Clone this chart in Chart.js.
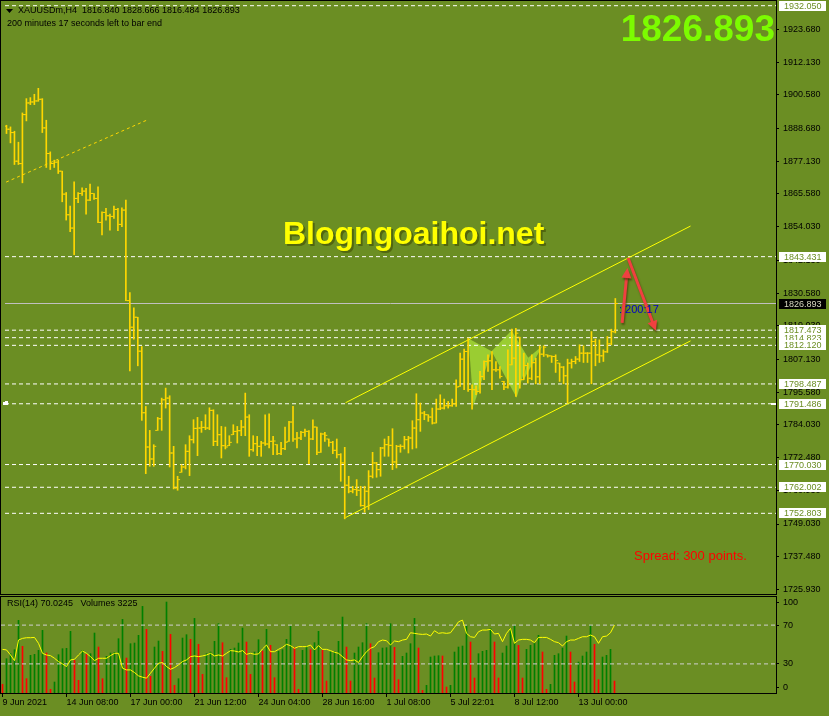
<!DOCTYPE html>
<html>
<head>
<meta charset="utf-8">
<script src="https://cdn.jsdelivr.net/npm/chart.js@4"></script>
<style>
  html, body { margin: 0; padding: 0; background: #6B8E23; }
  #wrap { position: relative; width: 829px; height: 716px; overflow: hidden; }
  canvas { position: absolute; left: 0; }
  #main { top: 0; }
  #rsi { top: 595px; }
</style>
</head>
<body>
<div id="wrap">
  <canvas id="main" width="829" height="595"></canvas>
  <canvas id="rsi" width="829" height="121"></canvas>
</div>
<script>
// ---- data (H4 bars, XAUUSDm) ----
const highs = [
  1889.84, 1889.25, 1887.72, 1883.85, 1894.19, 1899.24, 1899.59, 1900.77, 1902.88, 1899.24,
  1891.60, 1880.44, 1877.50, 1877.50, 1873.62, 1866.10, 1861.29, 1869.86, 1866.10, 1867.75,
  1867.52, 1869.04, 1865.75, 1868.10, 1859.29, 1860.47, 1858.47, 1861.29, 1860.47, 1860.70,
  1863.40, 1830.74, 1825.33, 1822.04, 1811.70, 1790.55, 1782.09, 1777.04, 1786.68, 1793.49,
  1797.02, 1794.32, 1776.46, 1765.88, 1769.99, 1777.04, 1780.21, 1785.86, 1786.68, 1785.27,
  1787.62, 1790.08, 1789.38, 1787.62, 1783.50, 1783.27, 1780.21, 1784.09, 1783.50, 1785.62,
  1795.26, 1787.62, 1780.21, 1779.98, 1778.22, 1787.62, 1787.98, 1779.99, 1777.05, 1777.87,
  1783.28, 1785.28, 1790.56, 1781.40, 1781.75, 1782.57, 1781.98, 1785.86, 1783.28, 1781.16,
  1781.40, 1779.05, 1778.23, 1779.05, 1773.88, 1776.11, 1765.89, 1762.36, 1764.71, 1762.36,
  1762.36, 1767.89, 1774.35, 1770.82, 1776.11, 1779.05, 1779.99, 1782.69, 1776.81, 1777.05,
  1779.99, 1779.99, 1785.51, 1795.03, 1791.74, 1788.80, 1787.62, 1789.97, 1793.15, 1794.67,
  1793.15, 1792.32, 1793.15, 1799.96, 1809.36, 1810.77, 1814.65, 1798.20, 1797.85, 1802.90,
  1806.66, 1808.77, 1809.95, 1806.42, 1804.66, 1799.37, 1810.54, 1817.82, 1818.17, 1815.00,
  1809.36, 1805.84, 1808.77, 1807.60, 1811.95, 1811.95, 1808.77, 1808.42, 1808.77, 1805.84,
  1804.66, 1807.25, 1807.25, 1808.19, 1812.30, 1811.95, 1809.60, 1817.00, 1814.30, 1814.06,
  1810.54, 1815.24, 1817.82, 1828.666
];
const lows = [
  1886.90, 1883.61, 1875.97, 1875.97, 1869.51, 1891.37, 1897.12, 1897.12, 1898.30, 1887.25,
  1874.92, 1874.21, 1874.92, 1872.80, 1862.81, 1856.35, 1852.24, 1844.13, 1862.46, 1865.05,
  1858.47, 1863.17, 1863.64, 1855.41, 1851.07, 1856.35, 1852.83, 1856.94, 1852.59, 1854.00,
  1827.92, 1803.13, 1814.29, 1804.89, 1785.62, 1766.82, 1769.41, 1769.41, 1782.09, 1782.09,
  1789.97, 1769.17, 1761.42, 1760.95, 1767.29, 1768.46, 1766.12, 1777.63, 1773.17, 1781.39,
  1782.33, 1782.33, 1776.69, 1776.69, 1772.34, 1775.52, 1776.69, 1780.57, 1777.63, 1780.21,
  1780.21, 1772.93, 1774.69, 1773.17, 1772.93, 1776.81, 1775.87, 1773.52, 1773.52, 1773.52,
  1775.29, 1778.23, 1778.23, 1775.87, 1778.81, 1779.99, 1770.35, 1778.81, 1773.52, 1774.35,
  1778.23, 1776.46, 1773.88, 1772.35, 1764.12, 1750.85, 1760.01, 1760.01, 1759.07, 1755.31,
  1753.20, 1754.14, 1765.30, 1765.54, 1765.89, 1772.94, 1772.94, 1768.24, 1768.83, 1774.35,
  1775.52, 1774.11, 1775.52, 1775.87, 1781.75, 1785.86, 1785.27, 1784.33, 1784.69, 1789.39,
  1789.62, 1789.97, 1790.56, 1790.56, 1797.61, 1796.44, 1795.85, 1789.62, 1794.67, 1795.26,
  1799.96, 1802.90, 1796.44, 1802.90, 1800.55, 1796.44, 1797.02, 1805.25, 1794.09, 1797.00,
  1799.96, 1798.79, 1799.96, 1798.55, 1798.55, 1808.19, 1807.95, 1806.07, 1802.55, 1799.38,
  1798.55, 1791.74, 1804.07, 1805.60, 1806.42, 1806.07, 1806.07, 1798.55, 1804.90, 1806.07,
  1806.42, 1809.60, 1812.30, 1816.484
];
const opens = [
  1889.50, 1888.43, 1887.25, 1877.15, 1876.30, 1893.60, 1897.71, 1898.06, 1898.42, 1899.00,
  1888.90, 1879.85, 1876.33, 1876.80, 1873.62, 1865.52, 1858.23, 1853.53, 1863.99, 1865.75,
  1866.57, 1863.40, 1865.75, 1863.99, 1855.53, 1859.05, 1857.88, 1857.64, 1860.11, 1854.82,
  1859.88, 1827.92, 1818.52, 1822.04, 1810.06, 1788.32, 1776.22, 1771.99, 1782.09, 1786.21,
  1792.90, 1793.49, 1774.10, 1761.77, 1767.29, 1769.17, 1774.69, 1778.80, 1782.80, 1782.92,
  1783.15, 1782.92, 1789.14, 1778.22, 1780.57, 1776.69, 1776.69, 1780.57, 1781.74, 1781.98,
  1783.27, 1786.80, 1775.28, 1777.39, 1776.46, 1777.63, 1777.28, 1778.23, 1777.05, 1773.88,
  1775.64, 1778.23, 1785.04, 1779.05, 1779.40, 1781.40, 1781.75, 1779.05, 1783.28, 1774.35,
  1780.81, 1779.05, 1777.87, 1775.05, 1773.52, 1770.59, 1762.72, 1760.60, 1761.19, 1760.95,
  1755.55, 1760.60, 1765.89, 1770.59, 1768.24, 1775.87, 1777.05, 1776.81, 1770.94, 1776.46,
  1776.46, 1778.81, 1779.40, 1782.92, 1785.86, 1788.21, 1787.62, 1786.80, 1784.69, 1789.62,
  1789.97, 1790.80, 1790.80, 1791.50, 1797.61, 1807.25, 1809.95, 1796.54, 1796.44, 1795.85,
  1801.14, 1806.42, 1806.66, 1803.49, 1803.49, 1799.37, 1797.38, 1805.25, 1807.60, 1815.00,
  1800.00, 1805.00, 1800.50, 1806.00, 1801.00, 1809.00, 1808.77, 1808.40, 1808.19, 1805.84,
  1804.43, 1801.37, 1805.84, 1806.42, 1807.25, 1809.36, 1809.36, 1809.36, 1813.47, 1808.77,
  1808.42, 1809.83, 1812.65, 1816.840
];
const closes = [
  1888.43, 1887.25, 1877.15, 1876.30, 1893.60, 1897.71, 1898.06, 1898.42, 1899.00, 1888.90,
  1879.85, 1876.33, 1876.80, 1873.62, 1865.52, 1858.23, 1853.53, 1863.99, 1865.75, 1866.57,
  1863.40, 1865.75, 1863.99, 1855.53, 1859.05, 1857.88, 1857.64, 1860.11, 1854.82, 1859.88,
  1827.92, 1818.52, 1822.04, 1810.06, 1788.32, 1776.22, 1771.99, 1776.46, 1786.21, 1792.90,
  1793.49, 1774.10, 1761.77, 1764.70, 1769.17, 1774.69, 1778.80, 1782.80, 1782.92, 1783.15,
  1782.92, 1789.14, 1778.22, 1780.57, 1776.69, 1776.22, 1777.86, 1781.74, 1781.98, 1783.27,
  1786.80, 1775.28, 1777.39, 1776.46, 1777.63, 1777.28, 1778.23, 1778.34, 1773.88, 1775.64,
  1777.87, 1785.04, 1779.05, 1779.40, 1781.40, 1781.75, 1779.05, 1783.28, 1774.35, 1780.81,
  1780.34, 1777.87, 1775.05, 1773.52, 1770.59, 1762.72, 1760.60, 1761.19, 1760.95, 1755.55,
  1760.60, 1765.89, 1770.59, 1768.24, 1775.87, 1777.05, 1776.81, 1770.94, 1776.46, 1776.46,
  1778.81, 1779.40, 1782.92, 1785.86, 1788.21, 1787.62, 1786.80, 1784.69, 1789.62, 1789.97,
  1790.80, 1790.80, 1791.50, 1797.38, 1807.25, 1809.95, 1796.54, 1796.44, 1795.85, 1801.14,
  1806.42, 1806.66, 1803.49, 1803.49, 1801.14, 1797.38, 1798.20, 1807.60, 1816.41, 1800.00,
  1805.00, 1800.50, 1806.00, 1801.00, 1809.00, 1811.48, 1808.40, 1808.19, 1806.78, 1804.43,
  1801.37, 1805.84, 1806.42, 1807.25, 1809.36, 1809.36, 1809.36, 1813.47, 1808.77, 1808.42,
  1809.83, 1812.65, 1817.00, 1826.893
];
const volumes = [
  2340, 9270, 10620, 11700, 19620, 12600, 3870, 10170, 10440, 11520,
  16920, 10800, 990, 2970, 10350, 11970, 12060, 16650, 8820, 3420,
  11520, 10440, 10620, 16200, 12420, 3870, 9900, 10800, 10980, 14670,
  19890, 9450, 13320, 13500, 15570, 23400, 17190, 4500, 12420, 14040,
  11250, 24570, 15840, 2070, 3870, 14850, 15750, 14490, 20160, 13140,
  5040, 10620, 11070, 13950, 18720, 13590, 4140, 11790, 12150, 13500,
  17550, 13770, 5040, 11070, 14400, 11340, 17190, 12870, 4140, 11250,
  11700, 14490, 18090, 12240, 990, 11520, 12600, 11700, 13590, 16650,
  11520, 3240, 11070, 11160, 13950, 20520, 12420, 3240, 10800, 12420,
  13590, 18720, 13320, 4050, 10890, 12150, 12240, 18720, 12330, 3600,
  9900, 10800, 13320, 20160, 12150, 720, 2070, 9720, 9990, 10080,
  9990, 1620, 2070, 11070, 12420, 12690, 18090, 13770, 4050, 10620,
  11250, 11520, 17370, 13770, 4050, 10800, 12690, 17370, 18270, 12870,
  4050, 11790, 12870, 13590, 15570, 11070, 990, 2340, 10170, 10620,
  12150, 15390, 11070, 2970, 8370, 9990, 11070, 18270, 13140, 3600,
  9720, 10170, 11790, 3225
];
const rsi14 = [
  45.0, 44.4, 39.2, 33.4, 54.6, 56.3, 57.0, 57.0, 57.3, 51.2,
  40.9, 39.2, 38.5, 35.8, 32.4, 30.0, 27.3, 34.1, 34.8, 39.2,
  43.3, 40.9, 37.5, 33.4, 35.8, 35.8, 35.8, 38.5, 40.9, 40.9,
  25.6, 23.8, 23.8, 21.1, 17.7, 16.3, 15.3, 20.4, 25.6, 30.7,
  31.4, 27.3, 24.5, 26.2, 29.0, 32.4, 34.1, 37.5, 38.2, 37.5,
  38.2, 39.2, 40.9, 38.2, 39.2, 38.2, 40.9, 43.7, 43.3, 42.3,
  43.7, 39.9, 40.9, 39.9, 40.3, 45.4, 49.5, 42.6, 42.6, 45.0,
  47.1, 50.2, 48.8, 46.1, 47.8, 47.8, 47.8, 49.5, 44.4, 48.8,
  45.0, 45.0, 43.7, 42.0, 40.9, 37.5, 34.1, 33.4, 34.1, 31.4,
  37.5, 42.6, 46.1, 47.8, 52.9, 54.6, 53.9, 49.5, 53.6, 52.9,
  54.6, 55.3, 62.1, 61.5, 60.8, 60.4, 60.8, 58.7, 64.2, 61.5,
  62.1, 61.5, 62.1, 67.6, 73.4, 75.1, 61.5, 58.0, 57.3, 63.2,
  64.9, 64.9, 65.6, 60.8, 61.5, 52.9, 61.5, 66.6, 51.2, 54.6,
  55.3, 55.3, 54.6, 51.9, 57.3, 57.3, 57.3, 55.3, 52.9, 51.9,
  48.5, 52.9, 54.6, 54.6, 56.3, 58.0, 58.0, 59.7, 58.0, 51.2,
  58.0, 58.7, 62.1, 70.0245
];

// price axis tick labels as printed by the terminal
const priceTicks = [1923.68, 1912.13, 1900.58, 1888.68, 1877.13, 1865.58, 1854.03, 1842.13,
  1830.58, 1819.03, 1807.13, 1795.58, 1784.03, 1772.48, 1760.93, 1749.03, 1737.48, 1725.93];
// horizontal line objects (dashed white)
const hlineLevels = [1932.050, 1843.431, 1817.473, 1814.823, 1812.120, 1798.487, 1791.486, 1770.030, 1762.002, 1752.803];
const bidPrice = 1826.893;
// trend lines: [barFrom, priceFrom, barTo, priceTo]
const channelLines = [[85.2, 1791.85, 171.9, 1854.24], [85.2, 1751.31, 171.9, 1813.70]];
const oldTrendLine = [-0.1, 1869.75, 35.2, 1891.6];
// harmonic pattern shapes, [bar, price] vertices
const patternShapes = [
  [[116.1, 1814.51], [121.9, 1810.07], [117.35, 1790.69]],
  [[121.9, 1810.07], [126.9, 1817.33], [131.1, 1807.71], [128.2, 1793.61]],
  [[129.7, 1799.25], [131.1, 1807.71], [134.7, 1811.94]]
];
// red arrows: [barFrom, priceFrom, barTo, priceTo]
const arrows = [[154.7, 1820.05, 156.05, 1839.44], [156.2, 1842.96, 163.2, 1817.23]];

const timeTickBars = [0, 16, 32, 48, 64, 80, 96, 112, 128, 144];
const timeTickLabels = ['9 Jun 2021', '14 Jun 08:00', '17 Jun 00:00', '21 Jun 12:00', '24 Jun 04:00',
  '28 Jun 16:00', '1 Jul 08:00', '5 Jul 22:01', '8 Jul 12:00', '13 Jul 00:00'];
const rsiTickValues = [93, 70, 30, 6];
const rsiTickLabels = ['100', '70', '30', '0'];

// ---- layout constants ----
const X_MIN = -0.375;          // bar 0 sits on pixel column 2
const X_MAX = X_MIN + 775 / 4; // 4px per bar, plot ends at x=776
// vertical price scale of the terminal: 1932.05 sits at y=5.7, 2.832 px per dollar
const ANCHOR_PRICE = 1932.05, ANCHOR_Y = 5.7, PX_PER_USD = 2.832;
const BG = '#6B8E23';
const FONT = '"Liberation Sans", Arial, sans-serif';
Chart.defaults.font.family = FONT;
Chart.defaults.font.size = 9;
Chart.defaults.color = '#000';

const idx = closes.map((c, i) => i);
const span = v => [{x: X_MIN, y: v}, {x: X_MAX, y: v}];
const seg = s => [{x: s[0], y: s[1]}, {x: s[2], y: s[3]}];
// keep the plot area where the terminal has it: no extra room for edge labels
const noEdgePadding = s => { s.paddingTop = 0; s.paddingBottom = 0; s.paddingLeft = 0; s.paddingRight = 0; };

const mainOverlay = {
  id: 'mainOverlay',
  beforeDatasetsDraw(chart) {
    const {ctx, scales: {x, y}} = chart;
    ctx.save();
    ctx.fillStyle = '#9ACD32';
    patternShapes.forEach(shape => {
      ctx.beginPath();
      shape.forEach(([b, p], k) => {
        const px = x.getPixelForValue(b), py = y.getPixelForValue(p);
        if (k) ctx.lineTo(px, py); else ctx.moveTo(px, py);
      });
      ctx.closePath();
      ctx.fill();
    });
    ctx.restore();
  },
  afterDraw(chart) {
    const {ctx, scales: {x, y}} = chart;
    ctx.save();
    // arrows
    arrows.forEach(a => {
      const x0 = x.getPixelForValue(a[0]), y0 = y.getPixelForValue(a[1]);
      const x1 = x.getPixelForValue(a[2]), y1 = y.getPixelForValue(a[3]);
      const ang = Math.atan2(y1 - y0, x1 - x0);
      ctx.shadowColor = 'rgba(60,40,0,0.6)';
      ctx.shadowOffsetX = 1; ctx.shadowOffsetY = 2; ctx.shadowBlur = 2;
      ctx.strokeStyle = '#F04040';
      ctx.fillStyle = '#F04040';
      ctx.lineWidth = 3;
      ctx.beginPath();
      ctx.moveTo(x0, y0);
      ctx.lineTo(x1 - 5 * Math.cos(ang), y1 - 5 * Math.sin(ang));
      ctx.stroke();
      ctx.beginPath();
      ctx.moveTo(x1, y1);
      ctx.lineTo(x1 - 10 * Math.cos(ang) + 5 * Math.sin(ang), y1 - 10 * Math.sin(ang) - 5 * Math.cos(ang));
      ctx.lineTo(x1 - 10 * Math.cos(ang) - 5 * Math.sin(ang), y1 - 10 * Math.sin(ang) + 5 * Math.cos(ang));
      ctx.closePath();
      ctx.fill();
    });
    ctx.shadowColor = 'transparent';

    // texts
    ctx.textBaseline = 'middle';
    ctx.fillStyle = '#000';
    ctx.font = '9px ' + FONT;
    ctx.fillText('XAUUSDm,H4  1816.840 1828.666 1816.484 1826.893', 18, 11);
    ctx.fillText('200 minutes 17 seconds left to bar end', 7, 24);
    ctx.beginPath();
    ctx.moveTo(6, 9); ctx.lineTo(13, 9); ctx.lineTo(9.5, 13); ctx.closePath(); ctx.fill();

    ctx.fillStyle = '#0000C8';
    ctx.font = '11px ' + FONT;
    ctx.fillText(': 200:17', 619, 310);

    ctx.fillStyle = '#FF0000';
    ctx.font = '13px ' + FONT;
    ctx.fillText('Spread: 300 points.', 634, 556);

    ctx.font = 'bold 32px ' + FONT;
    ctx.textBaseline = 'alphabetic';
    ctx.fillStyle = 'rgba(60,70,0,0.55)';
    ctx.fillText('Blogngoaihoi.net', 285, 246);
    ctx.fillStyle = '#FFFF00';
    ctx.fillText('Blogngoaihoi.net', 283, 244);

    ctx.font = 'bold 37px ' + FONT;
    ctx.fillStyle = '#7CFC00';
    ctx.textAlign = 'right';
    ctx.fillText(bidPrice.toFixed(3), 775, 41);
    ctx.textAlign = 'left';

    // little white markers of the 1791.486 line
    const pm = Math.round(y.getPixelForValue(1791.486));
    ctx.fillStyle = '#FFFFFF';
    ctx.fillRect(3, pm - 2, 5, 3);
    ctx.fillRect(5, pm - 3, 3, 1);
    ctx.fillRect(771, pm - 1, 5, 2);

    // panel border
    ctx.strokeStyle = '#000';
    ctx.lineWidth = 1;
    ctx.strokeRect(0.5, 0.5, 776, 594);

    // price labels of the line objects on the right scale
    ctx.font = '9px ' + FONT;
    ctx.textBaseline = 'middle';
    hlineLevels.forEach(v => {
      const py = Math.round(y.getPixelForValue(v));
      const top = Math.max(0, py - 5);
      ctx.fillStyle = '#FFFFFF';
      ctx.fillRect(779, top, 47, 10);
      ctx.fillStyle = BG;
      ctx.fillText(v.toFixed(3), 784, top + 5.5);
    });
    const pb = Math.round(y.getPixelForValue(bidPrice));
    ctx.fillStyle = '#000';
    ctx.fillRect(779, pb - 5, 47, 10);
    ctx.fillStyle = '#D8D8C0';
    ctx.fillText(bidPrice.toFixed(3), 784, pb + 0.5);
    ctx.restore();
  }
};

const gold = '#FFD700';
const mainChart = new Chart(document.getElementById('main'), {
  type: 'bar',
  data: {
    datasets: [
      {
        type: 'bar', order: 1,
        data: idx.map(i => ({x: i, y: [lows[i], highs[i]]})),
        backgroundColor: gold, barThickness: 1, grouped: false, borderSkipped: false
      },
      {
        type: 'scatter', order: 0,
        data: idx.map(i => ({x: i - 0.375, y: opens[i]})),
        pointStyle: 'line', pointRadius: 1, borderColor: gold, borderWidth: 1
      },
      {
        type: 'scatter', order: 0,
        data: idx.map(i => ({x: i + 0.375, y: closes[i]})),
        pointStyle: 'line', pointRadius: 1, borderColor: gold, borderWidth: 1
      },
      ...hlineLevels.map(v => ({
        type: 'line', order: 3, data: span(v), borderColor: '#FFFFFF',
        borderWidth: 1, borderDash: [4, 3], pointRadius: 0
      })),
      {
        type: 'line', order: 3, data: span(bidPrice), borderColor: '#C0C0C0',
        borderWidth: 1, pointRadius: 0
      },
      ...channelLines.map(s => ({
        type: 'line', order: 2, data: seg(s), borderColor: '#FFFF00',
        borderWidth: 1, pointRadius: 0
      })),
      {
        type: 'line', order: 2, data: seg(oldTrendLine), borderColor: gold,
        borderWidth: 1, borderDash: [3, 3], pointRadius: 0
      }
    ]
  },
  options: {
    responsive: false, animation: false, devicePixelRatio: 1,
    layout: {padding: {left: 1, top: 2, right: 0, bottom: 1}},
    plugins: {legend: {display: false}, tooltip: {enabled: false}},
    scales: {
      x: {type: 'linear', display: false, offset: false, grid: {offset: false}, min: X_MIN, max: X_MAX},
      y: {
        position: 'right', min: 1724.32, max: 1933.36,
        afterFit: s => { s.width = 53; noEdgePadding(s); },
        afterBuildTicks: s => { s.ticks = priceTicks.map(v => ({value: v})); },
        ticks: {callback: v => v.toFixed(3), padding: 4, color: '#000', font: {size: 9}},
        grid: {drawOnChartArea: false, tickLength: 3, color: '#000'},
        border: {color: '#000'}
      }
    }
  },
  plugins: [mainOverlay]
});
// match the terminal's price-to-pixel mapping for whatever plot area the layout produced
{
  const a = mainChart.chartArea;
  mainChart.options.scales.y.max = ANCHOR_PRICE - (a.top - ANCHOR_Y) / PX_PER_USD;
  mainChart.options.scales.y.min = ANCHOR_PRICE - (a.bottom - ANCHOR_Y) / PX_PER_USD;
  mainChart.update();
}

const rsiOverlay = {
  id: 'rsiOverlay',
  afterDraw(chart) {
    const {ctx} = chart;
    ctx.save();
    ctx.strokeStyle = '#000';
    ctx.lineWidth = 1;
    ctx.strokeRect(0.5, 1.5, 776, 97);
    ctx.fillStyle = '#000';
    ctx.font = '9px ' + FONT;
    ctx.textBaseline = 'middle';
    ctx.fillText('RSI(14) ' + rsi14[rsi14.length - 1].toFixed(4) + '   Volumes ' + volumes[volumes.length - 1], 7, 9);
    ctx.restore();
  }
};

new Chart(document.getElementById('rsi'), {
  type: 'bar',
  data: {
    datasets: [
      {
        type: 'line', order: 0, yAxisID: 'y',
        data: idx.map(i => ({x: i, y: rsi14[i]})),
        borderColor: '#FFFF00', borderWidth: 1, pointRadius: 0
      },
      ...[70, 30].map(v => ({
        type: 'line', order: 1, yAxisID: 'y', data: span(v),
        borderColor: '#D0D0D0', borderWidth: 1, borderDash: [4, 3], pointRadius: 0
      })),
      {
        type: 'bar', order: 2, yAxisID: 'vol',
        data: idx.map(i => ({x: i, y: volumes[i]})),
        backgroundColor: c => (c.dataIndex > 0 && volumes[c.dataIndex] > volumes[c.dataIndex - 1]) ? '#008000' : '#FF0000',
        barThickness: 1, grouped: false
      }
    ]
  },
  options: {
    responsive: false, animation: false, devicePixelRatio: 1,
    layout: {padding: {left: 1, top: 1, right: 0, bottom: 0}},
    plugins: {legend: {display: false}, tooltip: {enabled: false}},
    scales: {
      x: {
        type: 'linear', min: X_MIN, max: X_MAX, offset: false,
        afterFit: s => { s.height = 23; noEdgePadding(s); },
        afterBuildTicks: s => { s.ticks = timeTickBars.map(v => ({value: v})); },
        ticks: {callback: (v, i) => timeTickLabels[i], align: 'start', maxRotation: 0, autoSkip: false,
          padding: 0, color: '#000', font: {size: 9}},
        grid: {drawOnChartArea: false, tickLength: 4, color: '#000', offset: false},
        border: {color: '#000'}
      },
      y: {
        position: 'right', min: 0, max: 100,
        afterFit: s => { s.width = 53; noEdgePadding(s); },
        afterBuildTicks: s => { s.ticks = rsiTickValues.map(v => ({value: v})); },
        ticks: {callback: (v, i) => rsiTickLabels[i], padding: 4, color: '#000', font: {size: 9}},
        grid: {drawOnChartArea: false, tickLength: 3, color: '#000'},
        border: {color: '#000'}
      },
      vol: {display: false, min: 0, max: 26200}
    }
  },
  plugins: [rsiOverlay]
});
</script>
</body>
</html>
